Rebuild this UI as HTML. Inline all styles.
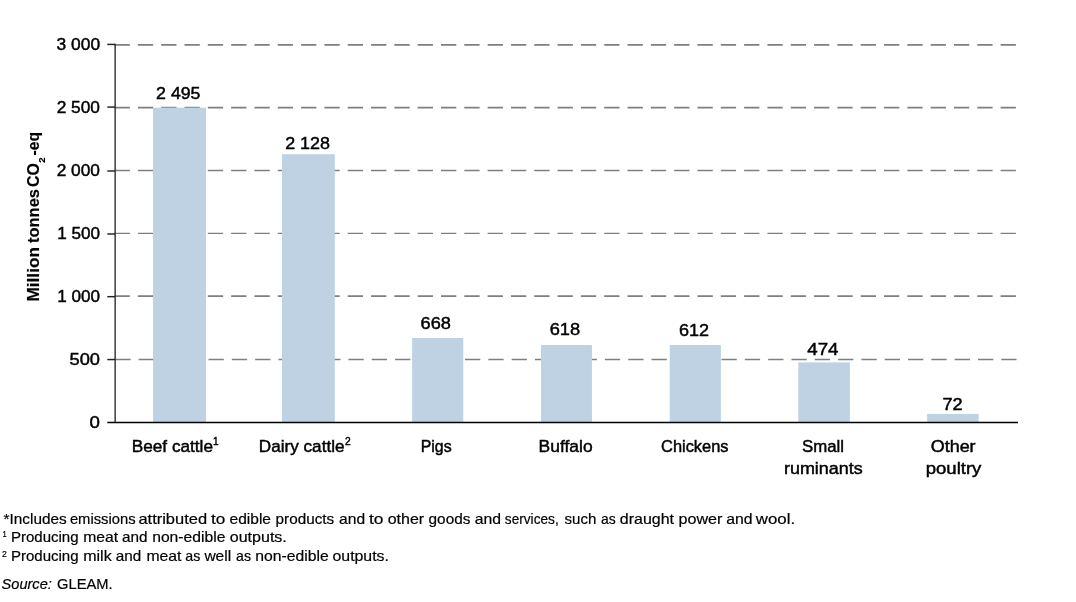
<!DOCTYPE html>
<html lang="en"><head><meta charset="utf-8"><title>Emissions by species</title>
<style>html,body{margin:0;padding:0;background:#fff;}body{width:1076px;height:602px;overflow:hidden;}svg{display:block;}text{font-family:"Liberation Sans",sans-serif;fill:#000;}.c text{stroke:#000;stroke-width:0.45px;}.c g text{stroke-width:inherit;}.f text{stroke:#000;stroke-width:0.2px;}</style>
</head><body>
<svg width="1076" height="602" viewBox="0 0 1076 602">
<rect x="0" y="0" width="1076" height="602" fill="#ffffff"/>
<g stroke="#7d7f82" stroke-dasharray="15.3 8.017" fill="none">
<line x1="115.25" y1="359.50" x2="1016.50" y2="359.50" stroke-width="1.45"/>
<line x1="114.55" y1="296.13" x2="1016.50" y2="296.13" stroke-width="1.6"/>
<line x1="114.55" y1="233.40" x2="1016.50" y2="233.40" stroke-width="1.4"/>
<line x1="114.55" y1="170.50" x2="1016.50" y2="170.50" stroke-width="1.4"/>
<line x1="114.55" y1="107.60" x2="1016.50" y2="107.60" stroke-width="1.55"/>
<line x1="114.55" y1="44.87" x2="1016.50" y2="44.87" stroke-width="1.65"/>
</g>
<g fill="#bfd2e3">
<rect x="153.05" y="107.7" width="52.95" height="314.7"/>
<rect x="282.00" y="154.2" width="52.80" height="268.2"/>
<rect x="412.10" y="338.0" width="51.15" height="84.4"/>
<rect x="541.00" y="345.0" width="50.95" height="77.4"/>
<rect x="669.70" y="345.0" width="51.20" height="77.4"/>
<rect x="798.30" y="362.4" width="51.60" height="60.0"/>
<rect x="927.10" y="413.9" width="51.60" height="8.5"/>
</g>
<line x1="115.15" y1="43.80" x2="115.15" y2="422.40" stroke="#3a3a3a" stroke-width="1.5"/>
<g stroke="#222" stroke-width="1.45">
<line x1="107.3" y1="359.56" x2="115.15" y2="359.56"/>
<line x1="107.3" y1="296.67" x2="115.15" y2="296.67"/>
<line x1="107.3" y1="233.98" x2="115.15" y2="233.98"/>
<line x1="107.3" y1="171.00" x2="115.15" y2="171.00"/>
<line x1="107.3" y1="107.08" x2="115.15" y2="107.08"/>
<line x1="107.3" y1="44.42" x2="115.15" y2="44.42"/>
</g>
<line x1="107.3" y1="422.40" x2="1018.00" y2="422.40" stroke="#000" stroke-width="1.5"/>
<g class="c">
<text x="56.6" y="50.0" font-size="16.8" textLength="43.5" lengthAdjust="spacingAndGlyphs">3 000</text>
<text x="56.7" y="112.5" font-size="16.8" textLength="43.3" lengthAdjust="spacingAndGlyphs">2 500</text>
<text x="56.7" y="175.9" font-size="16.8" textLength="43.3" lengthAdjust="spacingAndGlyphs">2 000</text>
<text x="57.2" y="238.8" font-size="16.8" textLength="42.8" lengthAdjust="spacingAndGlyphs">1 500</text>
<text x="57.2" y="301.7" font-size="16.8" textLength="42.8" lengthAdjust="spacingAndGlyphs">1 000</text>
<text x="69.5" y="364.9" font-size="16.8" textLength="30.5" lengthAdjust="spacingAndGlyphs">500</text>
<text x="89.6" y="427.8" font-size="16.8" textLength="10.4" lengthAdjust="spacingAndGlyphs">0</text>
<text x="156.1" y="99.0" font-size="16.8" textLength="44.4" lengthAdjust="spacingAndGlyphs">2 495</text>
<text x="285.2" y="149.0" font-size="16.8" textLength="44.8" lengthAdjust="spacingAndGlyphs">2 128</text>
<text x="420.6" y="329.0" font-size="16.8" textLength="30.3" lengthAdjust="spacingAndGlyphs">668</text>
<text x="549.7" y="334.9" font-size="16.8" textLength="30.5" lengthAdjust="spacingAndGlyphs">618</text>
<text x="679.0" y="335.8" font-size="16.8" textLength="30.1" lengthAdjust="spacingAndGlyphs">612</text>
<text x="807.3" y="355.2" font-size="16.8" textLength="31.2" lengthAdjust="spacingAndGlyphs">474</text>
<text x="942.5" y="410.0" font-size="16.8" textLength="20.2" lengthAdjust="spacingAndGlyphs">72</text>
<text x="131.8" y="451.8" font-size="16.8" textLength="81.2" lengthAdjust="spacingAndGlyphs">Beef cattle</text>
<text x="258.8" y="451.8" font-size="16.8" textLength="85.7" lengthAdjust="spacingAndGlyphs">Dairy cattle</text>
<text x="420.7" y="451.8" font-size="16.8" textLength="31.0" lengthAdjust="spacingAndGlyphs">Pigs</text>
<text x="538.6" y="451.8" font-size="16.8" textLength="54.0" lengthAdjust="spacingAndGlyphs">Buffalo</text>
<text x="661.1" y="451.8" font-size="16.8" textLength="67.4" lengthAdjust="spacingAndGlyphs">Chickens</text>
<text x="802.1" y="451.8" font-size="16.8" textLength="42.0" lengthAdjust="spacingAndGlyphs">Small</text>
<text x="784.0" y="473.5" font-size="16.8" textLength="78.7" lengthAdjust="spacingAndGlyphs">ruminants</text>
<text x="930.8" y="451.8" font-size="16.8" textLength="44.8" lengthAdjust="spacingAndGlyphs">Other</text>
<text x="925.7" y="473.5" font-size="16.8" textLength="55.7" lengthAdjust="spacingAndGlyphs">poultry</text>
<text x="212.9" y="445.0" font-size="11.2" textLength="5.6" lengthAdjust="spacingAndGlyphs">1</text>
<text x="344.9" y="445.1" font-size="11.2" textLength="5.7" lengthAdjust="spacingAndGlyphs">2</text>
<g transform="translate(39.4,301) rotate(-90)" font-weight="bold" style="stroke-width:0.15px">
<text font-size="16.6"><tspan x="-0.6" y="0" font-size="16.6" textLength="54.6" lengthAdjust="spacingAndGlyphs">Million</tspan> <tspan x="58.0" y="0" font-size="16.6" textLength="54.0" lengthAdjust="spacingAndGlyphs">tonnes</tspan> <tspan x="114.0" y="0" font-size="16.6" textLength="24.0" lengthAdjust="spacingAndGlyphs">CO</tspan><tspan x="138.2" y="5.7" font-size="9.6">2</tspan><tspan x="145.4" y="0" font-size="16.6" textLength="23.6" lengthAdjust="spacingAndGlyphs">-eq</tspan></text>
</g>
</g>
<g class="f">
<text y="523.6" font-size="15.0"><tspan x="3.6" textLength="63.1" lengthAdjust="spacingAndGlyphs">*Includes</tspan> <tspan x="69.9" textLength="65.7" lengthAdjust="spacingAndGlyphs">emissions</tspan> <tspan x="138.4" textLength="68.7" lengthAdjust="spacingAndGlyphs">attributed</tspan> <tspan x="211.1" textLength="14.3" lengthAdjust="spacingAndGlyphs">to</tspan> <tspan x="229.6" textLength="41.4" lengthAdjust="spacingAndGlyphs">edible</tspan> <tspan x="275.6" textLength="58.6" lengthAdjust="spacingAndGlyphs">products</tspan> <tspan x="339.1" textLength="26.0" lengthAdjust="spacingAndGlyphs">and</tspan> <tspan x="368.9" textLength="14.5" lengthAdjust="spacingAndGlyphs">to</tspan> <tspan x="387.7" textLength="36.4" lengthAdjust="spacingAndGlyphs">other</tspan> <tspan x="428.6" textLength="41.8" lengthAdjust="spacingAndGlyphs">goods</tspan> <tspan x="474.7" textLength="26.3" lengthAdjust="spacingAndGlyphs">and</tspan> <tspan x="504.8" textLength="53.9" lengthAdjust="spacingAndGlyphs">services,</tspan> <tspan x="564.6" textLength="31.8" lengthAdjust="spacingAndGlyphs">such</tspan> <tspan x="601.0" textLength="14.7" lengthAdjust="spacingAndGlyphs">as</tspan> <tspan x="619.8" textLength="54.2" lengthAdjust="spacingAndGlyphs">draught</tspan> <tspan x="678.6" textLength="43.8" lengthAdjust="spacingAndGlyphs">power</tspan> <tspan x="726.2" textLength="26.3" lengthAdjust="spacingAndGlyphs">and</tspan> <tspan x="755.8" textLength="39.3" lengthAdjust="spacingAndGlyphs">wool.</tspan></text>
<text x="2.4" y="537.0" font-size="8.6" textLength="4.2" lengthAdjust="spacingAndGlyphs">1</text>
<text y="542.3" font-size="15.0"><tspan x="10.9" textLength="67.7" lengthAdjust="spacingAndGlyphs">Producing</tspan> <tspan x="83.2" textLength="35.0" lengthAdjust="spacingAndGlyphs">meat</tspan> <tspan x="122.1" textLength="25.5" lengthAdjust="spacingAndGlyphs">and</tspan> <tspan x="152.2" textLength="73.2" lengthAdjust="spacingAndGlyphs">non-edible</tspan> <tspan x="229.8" textLength="57.0" lengthAdjust="spacingAndGlyphs">outputs.</tspan></text>
<text x="2.0" y="556.6" font-size="8.6" textLength="4.8" lengthAdjust="spacingAndGlyphs">2</text>
<text y="561.4" font-size="15.0"><tspan x="10.9" textLength="67.7" lengthAdjust="spacingAndGlyphs">Producing</tspan> <tspan x="83.2" textLength="28.5" lengthAdjust="spacingAndGlyphs">milk</tspan> <tspan x="115.8" textLength="25.5" lengthAdjust="spacingAndGlyphs">and</tspan> <tspan x="146.4" textLength="35.1" lengthAdjust="spacingAndGlyphs">meat</tspan> <tspan x="185.3" textLength="15.0" lengthAdjust="spacingAndGlyphs">as</tspan> <tspan x="204.4" textLength="26.8" lengthAdjust="spacingAndGlyphs">well</tspan> <tspan x="236.1" textLength="14.9" lengthAdjust="spacingAndGlyphs">as</tspan> <tspan x="255.3" textLength="73.4" lengthAdjust="spacingAndGlyphs">non-edible</tspan> <tspan x="332.5" textLength="56.4" lengthAdjust="spacingAndGlyphs">outputs.</tspan></text>
<text x="1.6" y="588.7" font-size="15.0" textLength="50.2" lengthAdjust="spacingAndGlyphs" font-style="italic">Source:</text>
<text x="57.0" y="588.7" font-size="15.0" textLength="55.6" lengthAdjust="spacingAndGlyphs">GLEAM.</text>
</g>
</svg>
</body></html>
